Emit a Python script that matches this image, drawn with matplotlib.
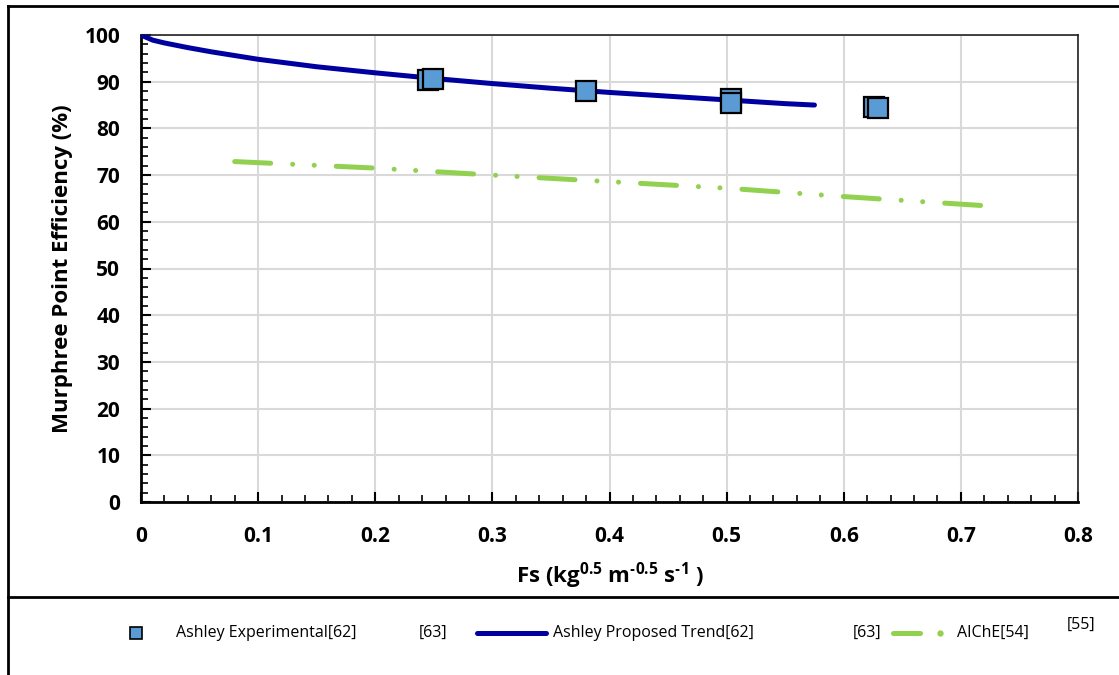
import numpy as np
import matplotlib
matplotlib.use("Agg")
import matplotlib.pyplot as plt
import matplotlib.ticker as ticker
from matplotlib.lines import Line2D

# Ashley experimental points (pairs of near-overlapping squares)
exp_fs = [0.245, 0.249, 0.380, 0.504, 0.504, 0.626, 0.629]
exp_eff = [90.3, 90.5, 88.0, 86.3, 85.4, 84.6, 84.3]

# Ashley proposed trend
trend_fs = [0.0, 0.01, 0.02, 0.04, 0.06, 0.08, 0.10, 0.15, 0.20, 0.25,
            0.30, 0.35, 0.40, 0.45, 0.50, 0.55, 0.575]
trend_eff = [100.0, 98.9, 98.3, 97.3, 96.4, 95.6, 94.8, 93.2, 91.9, 90.7,
             89.6, 88.6, 87.7, 86.9, 86.1, 85.3, 85.0]

# AIChE correlation
aiche_fs = [0.08, 0.2, 0.3, 0.4, 0.5, 0.6, 0.723]
aiche_eff = [72.9, 71.5, 70.0, 68.6, 67.2, 65.4, 63.4]

BLUE = "#0000A0"
GREEN = "#92D050"
SQ = "#5B9BD5"
FONT = "Open Sans"

plt.rcParams["mathtext.fontset"] = "custom"
plt.rcParams["mathtext.rm"] = FONT
plt.rcParams["mathtext.bf"] = FONT + ":bold"
plt.rcParams["mathtext.default"] = "bf"


def main():
    fig = plt.figure(figsize=(11.19, 6.75), dpi=100)
    ax = fig.add_axes([141 / 1119, 1 - 502 / 675, 937 / 1119, 467 / 675])

    ax.plot(trend_fs, trend_eff, color=BLUE, lw=3.6, solid_capstyle="round", zorder=3)
    ax.plot(aiche_fs, aiche_eff, color=GREEN, lw=3.6,
            linestyle=(0, (7.2, 4.4, 0.01, 4.3, 0.01, 4.4)),
            dash_capstyle="round", zorder=3)
    ax.plot(exp_fs, exp_eff, linestyle="none", marker="s", ms=14,
            mfc=SQ, mec="black", mew=1.6, zorder=4)

    ax.set_xlim(0, 0.8)
    ax.set_ylim(0, 100)
    ax.xaxis.set_major_locator(ticker.MultipleLocator(0.1))
    ax.xaxis.set_minor_locator(ticker.MultipleLocator(0.02))
    ax.yaxis.set_major_locator(ticker.MultipleLocator(10))
    ax.yaxis.set_minor_locator(ticker.MultipleLocator(2))
    ax.xaxis.set_major_formatter(ticker.FuncFormatter(lambda v, p: "0" if v == 0 else ("%g" % round(v, 2))))

    ax.grid(True, which="major", color="#D9D9D9", lw=1.5, zorder=0)
    ax.set_axisbelow(True)

    ax.tick_params(which="both", direction="in", top=False, right=False, color="black")
    ax.tick_params(which="major", length=7, width=1.5, labelsize=15)
    ax.tick_params(which="minor", length=5, width=1.2)
    ax.tick_params(axis="y", which="major", pad=15)
    ax.tick_params(axis="x", which="major", pad=17)
    for lab in ax.get_xticklabels() + ax.get_yticklabels():
        lab.set_fontfamily(FONT)
        lab.set_fontweight("bold")

    ax.spines["left"].set_linewidth(2)
    ax.spines["bottom"].set_linewidth(2)
    ax.spines["top"].set_linewidth(1.2)
    ax.spines["right"].set_linewidth(1.2)
    ax.spines["top"].set_color("#222222")
    ax.spines["right"].set_color("#222222")

    ax.set_ylabel("Murphree Point Efficiency (%)", fontsize=16, fontweight="bold",
                  fontfamily=FONT, labelpad=8)
    ax.set_xlabel("Fs (kg$^{0.5}$ m$^{\u20100.5}$ s$^{\u20101}$ )",
                  fontsize=16, fontweight="bold", fontfamily=FONT, labelpad=10)

    # outer frame lines
    W, H = 1119, 675
    def fx(px):
        return px / W
    def fy(py):
        return 1 - py / H
    for xs, ys in [([8, W], [6, 6]), ([8, 8], [6, H]), ([8, W], [597, 597])]:
        fig.add_artist(Line2D([fx(x) for x in xs], [fy(y) for y in ys],
                              color="black", lw=2))

    # legend, drawn by hand
    ly = fy(633)
    fig.add_artist(Line2D([fx(136)], [ly], marker="s", ms=8, mfc=SQ, mec="black",
                          mew=1.2, linestyle="none"))
    lk = dict(fontsize=11.5, fontfamily=FONT, va="center", ha="left")
    fig.text(fx(176), ly, "Ashley Experimental[62]", **lk)
    fig.text(fx(419), ly, "[63]", **lk)
    fig.add_artist(Line2D([fx(477), fx(546)], [ly, ly], color=BLUE, lw=3.6,
                          solid_capstyle="round"))
    fig.text(fx(553), ly, "Ashley Proposed Trend[62]", **lk)
    fig.text(fx(853), ly, "[63]", **lk)
    fig.add_artist(Line2D([fx(893), fx(920)], [ly, ly], color=GREEN, lw=3.6,
                          solid_capstyle="round"))
    fig.add_artist(Line2D([fx(940)], [ly], marker="o", ms=3.5, color=GREEN,
                          linestyle="none"))
    fig.text(fx(957), ly, "AIChE[54]", **lk)
    fig.text(fx(1067), fy(625), "[55]", **lk)

    fig.savefig("out.png", dpi=100)


if __name__ == "__main__":
    main()
